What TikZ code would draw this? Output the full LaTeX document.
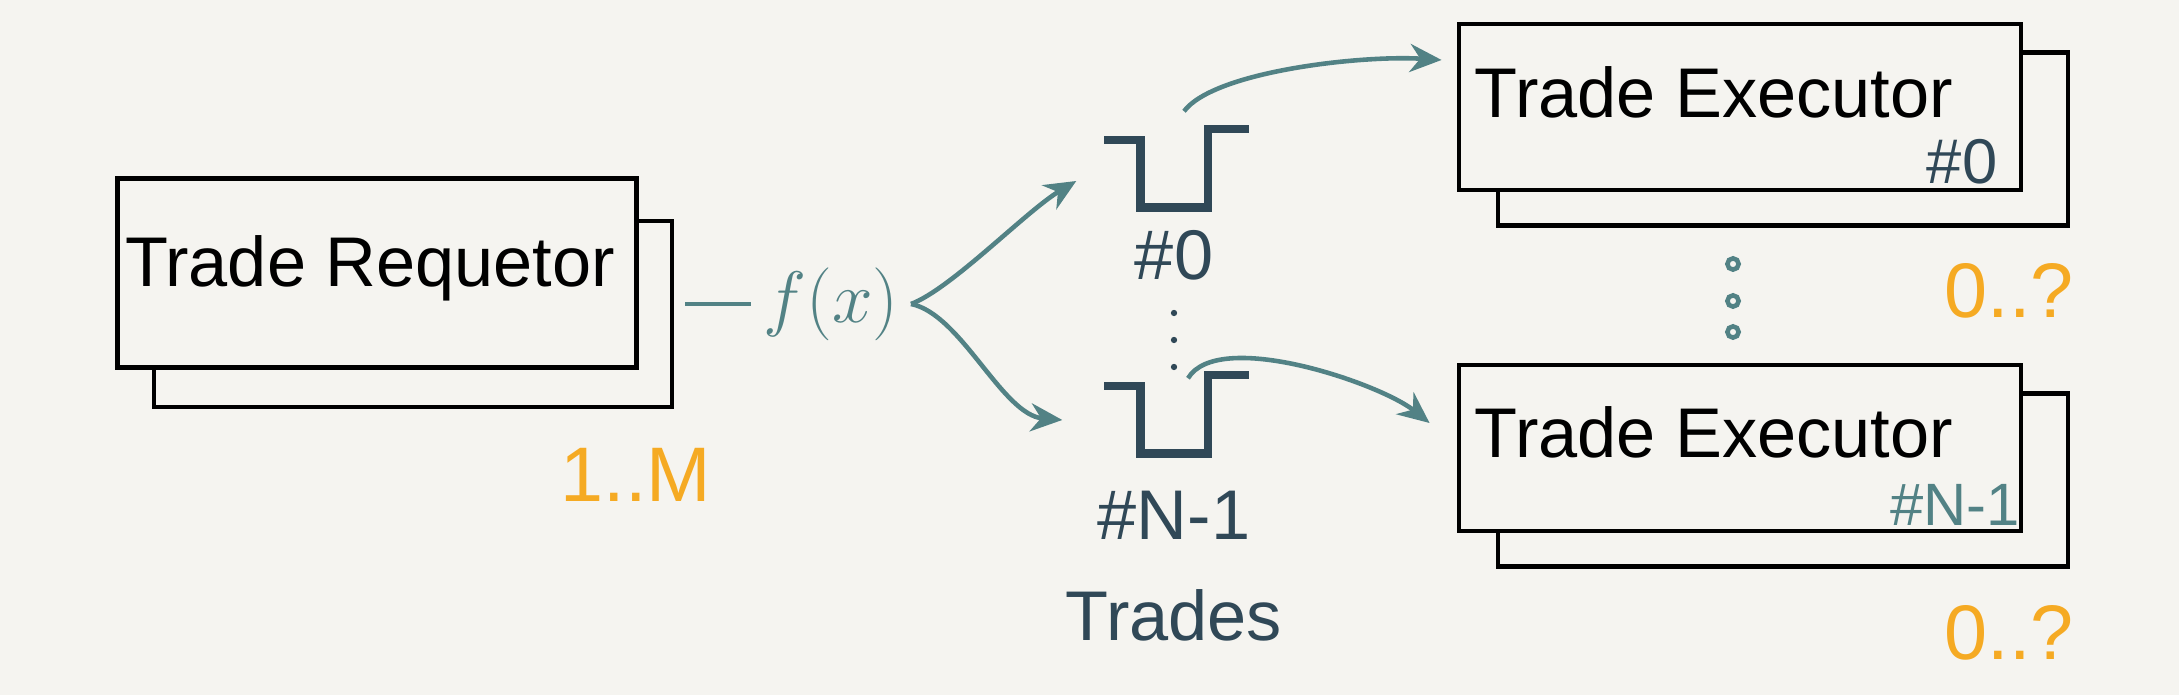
\documentclass[tikz,border=0pt]{standalone}
\usepackage{fontspec}
\setmainfont{Liberation Sans}
\usetikzlibrary{arrows.meta, positioning, calc}
\definecolor{paper}{RGB}{245,244,240}
\definecolor{penteal}{RGB}{82,130,133}
\definecolor{penslate}{RGB}{48,72,87}
\definecolor{penorange}{RGB}{245,170,35}

\begin{document}
\begin{tikzpicture}[
    x=0.01cm, y=-0.01cm,
    frontbox/.style={rectangle, draw=black, line width=1.3pt, fill=paper,
                     minimum width=5.62cm, minimum height=1.66cm,
                     font=\fontsize{20}{22}\selectfont, inner sep=0pt},
    backbox/.style={rectangle, draw=black, line width=1.2pt, fill=paper,
                    minimum width=5.70cm, minimum height=1.73cm},
    boxtext/.style={font=\fontsize{20}{22}\selectfont, inner sep=0pt},
    queuebox/.style={rectangle, minimum width=0.66cm, minimum height=0.66cm,
                     inner sep=0pt},
    queueline/.style={draw=penslate, line width=2.4pt},
    tag/.style={text=penslate, font=\fontsize{20}{22}\selectfont},
    count/.style={text=penorange, font=\fontsize{22}{24}\selectfont},
    flow/.style={draw=penteal, line width=1.3pt,
                 -{Stealth[length=9pt, width=8pt]}}
]
% paper
\path[use as bounding box, fill=paper] (0,0) rectangle (2179,695);

% requestor
\node[backbox, minimum width=5.18cm, minimum height=1.86cm] (reqback) at (413,314) {};
\node[frontbox, minimum width=5.19cm, minimum height=1.89cm] (req) at (377,273) {};
\node[boxtext] (reqtxt) at (370,268) {Trade Requetor};
\node[count] (reqcount) at (636,475) {1..M};

% routing function
\node[text=penteal, font=\fontsize{22}{24}\selectfont] (fx) at (831,304) {$f(x)$};
\draw[penteal, line width=1.3pt, shorten <=0.11cm] (fx.west -| reqback.east) -- (fx.west);

% queues
\node[queuebox] (q0) at (1174,174) {};
\node[queuebox] (q1) at (1174,420) {};
\foreach \q in {q0,q1}
    \draw[queueline] ($(\q.north west)+(-36,0)$) -- (\q.north west) -- (\q.south west)
        -- (\q.south east) -- ($(\q.north east)+(0,-11)$) -- ++(41,0);
\node[tag, below=0.1cm of q0] (q0lbl) {\#0};
\node[tag, below=0.25cm of q1] (q1lbl) {\#N-1};
\node[tag, below=0.25cm of q1lbl] (trades) {Trades};
\foreach \y in {313,340,367}
    \fill[penslate] (1174,\y) circle[radius=0.9pt];

% executors
\node[backbox] (ex0back) at (1783,139) {};
\node[frontbox] (ex0) at (1740,107) {};
\node[boxtext] (ex0txt) at (1714,92) {Trade Executor};
\node[backbox] (ex1back) at (1783,480) {};
\node[frontbox] (ex1) at (1740,448) {};
\node[boxtext] (ex1txt) at (1714,432) {Trade Executor};
\node[tag, font=\fontsize{18}{20}\selectfont] (ex0tag) at (1962,162) {\#0};
\node[tag, text=penteal, font=\fontsize{17}{19}\selectfont] (ex1tag) at (1955,505) {\#N-1};
\foreach \y in {264,301,332}
    \draw[penteal, line width=1.3pt] (1733,\y) circle[radius=1.6pt];
\node[count] (ex0count) at (2009,291) {0..?};
\node[count] (ex1count) at (2009,633) {0..?};

% flows
\draw[flow] (fx.east) .. controls +(40,-15) and +(-50,30) .. ($(q0.west)+(-64,7)$);
\draw[flow] (fx.east) .. controls +(50,10) and +(-60,-5) .. ($(q1.west)+(-78,0)$);
\draw[flow] ($(q0.north)+(10,-29)$) .. controls +(30,-40) and +(-80,-5) .. ($(ex0.west)+(-15,-47)$);
\draw[flow] ($(q1.north)+(14,-8)$) .. controls +(30,-50) and +(-50,-40) .. ($(ex1.west)+(-27,-25)$);
\end{tikzpicture}
\end{document}
